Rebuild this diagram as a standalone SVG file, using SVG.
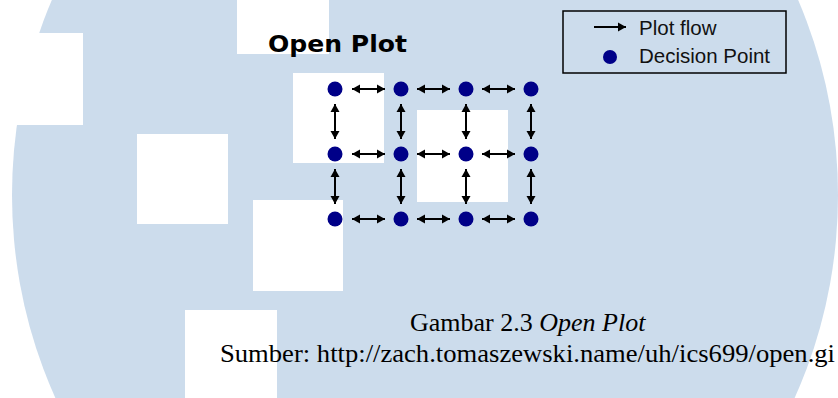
<svg xmlns="http://www.w3.org/2000/svg" width="838" height="398" viewBox="0 0 838 398">
  <style>
    .tile { fill: #ffffff; }
    .dot { fill: #000088; }
    .flow { stroke: #000000; stroke-width: 2; fill: none; marker-start: url(#head-start); marker-end: url(#head-end); }
    .title { font-family: "DejaVu Sans", Verdana, sans-serif; font-weight: bold; font-size: 23px; fill: #000000; }
    .legend-text { font-family: "Liberation Sans", Arial, sans-serif; font-size: 20.5px; fill: #111111; }
    .caption { font-family: "Liberation Serif", "Times New Roman", serif; font-size: 26px; fill: #000000; }
  </style>
  <defs>
    <marker id="head-end" markerUnits="userSpaceOnUse" markerWidth="9" markerHeight="10" refX="8" refY="5" orient="auto">
      <path d="M0,0.5 L8,5 L0,9.5 Z" fill="#000000"/>
    </marker>
    <marker id="head-start" markerUnits="userSpaceOnUse" markerWidth="9" markerHeight="10" refX="0" refY="5" orient="auto">
      <path d="M8,0.5 L0,5 L8,9.5 Z" fill="#000000"/>
    </marker>
  </defs>

  <!-- backdrop -->
  <rect x="0" y="0" width="838" height="398" fill="#ffffff"/>
  <ellipse cx="425" cy="195" rx="413" ry="455" fill="#ccdcec"/>
  <rect class="tile" x="0" y="33" width="83" height="92"/>
  <rect class="tile" x="137" y="134" width="91" height="90"/>
  <rect class="tile" x="253" y="200" width="90" height="91"/>
  <rect class="tile" x="185" y="310" width="92" height="88"/>
  <rect class="tile" x="237" y="0" width="92" height="54"/>
  <rect class="tile" x="293" y="73" width="91" height="90"/>
  <rect class="tile" x="417" y="110" width="91" height="92"/>

  <text class="title" x="268" y="52" textLength="139" lengthAdjust="spacingAndGlyphs">Open Plot</text>

  <!-- legend -->
  <g id="legend">
    <rect x="563" y="11" width="223" height="62" fill="none" stroke="#000000" stroke-width="1.5"/>
    <line x1="594" y1="27" x2="626" y2="27" stroke="#000000" stroke-width="2" marker-end="url(#head-end)"/>
    <text class="legend-text" x="639" y="35">Plot flow</text>
    <circle class="dot" cx="610" cy="57" r="7"/>
    <text class="legend-text" x="639" y="63">Decision Point</text>
  </g>

  <!-- connectors -->
  <g id="connectors">
    <line class="flow" x1="352" y1="89" x2="385" y2="89"/>
    <line class="flow" x1="417" y1="89" x2="450" y2="89"/>
    <line class="flow" x1="482" y1="89" x2="515" y2="89"/>
    <line class="flow" x1="352" y1="154" x2="385" y2="154"/>
    <line class="flow" x1="417" y1="154" x2="450" y2="154"/>
    <line class="flow" x1="482" y1="154" x2="515" y2="154"/>
    <line class="flow" x1="352" y1="219" x2="385" y2="219"/>
    <line class="flow" x1="417" y1="219" x2="450" y2="219"/>
    <line class="flow" x1="482" y1="219" x2="515" y2="219"/>
    <line class="flow" x1="335" y1="104" x2="335" y2="139"/>
    <line class="flow" x1="401" y1="104" x2="401" y2="139"/>
    <line class="flow" x1="466" y1="104" x2="466" y2="139"/>
    <line class="flow" x1="531" y1="104" x2="531" y2="139"/>
    <line class="flow" x1="335" y1="169" x2="335" y2="204"/>
    <line class="flow" x1="401" y1="169" x2="401" y2="204"/>
    <line class="flow" x1="466" y1="169" x2="466" y2="204"/>
    <line class="flow" x1="531" y1="169" x2="531" y2="204"/>
  </g>

  <!-- decision points -->
  <g id="p11"><circle class="dot" cx="335" cy="89" r="7.5"/></g>
  <g id="p12"><circle class="dot" cx="401" cy="89" r="7.5"/></g>
  <g id="p13"><circle class="dot" cx="466" cy="89" r="7.5"/></g>
  <g id="p14"><circle class="dot" cx="531" cy="89" r="7.5"/></g>
  <g id="p21"><circle class="dot" cx="335" cy="154" r="7.5"/></g>
  <g id="p22"><circle class="dot" cx="401" cy="154" r="7.5"/></g>
  <g id="p23"><circle class="dot" cx="466" cy="154" r="7.5"/></g>
  <g id="p24"><circle class="dot" cx="531" cy="154" r="7.5"/></g>
  <g id="p31"><circle class="dot" cx="335" cy="219" r="7.5"/></g>
  <g id="p32"><circle class="dot" cx="401" cy="219" r="7.5"/></g>
  <g id="p33"><circle class="dot" cx="466" cy="219" r="7.5"/></g>
  <g id="p34"><circle class="dot" cx="531" cy="219" r="7.5"/></g>

  <!-- caption -->
  <text class="caption" x="410" y="331">Gambar 2.3 <tspan font-style="italic">Open Plot</tspan></text>
  <text class="caption" x="220" y="362" textLength="615" lengthAdjust="spacingAndGlyphs">Sumber: http://zach.tomaszewski.name/uh/ics699/open.gi</text>
</svg>
